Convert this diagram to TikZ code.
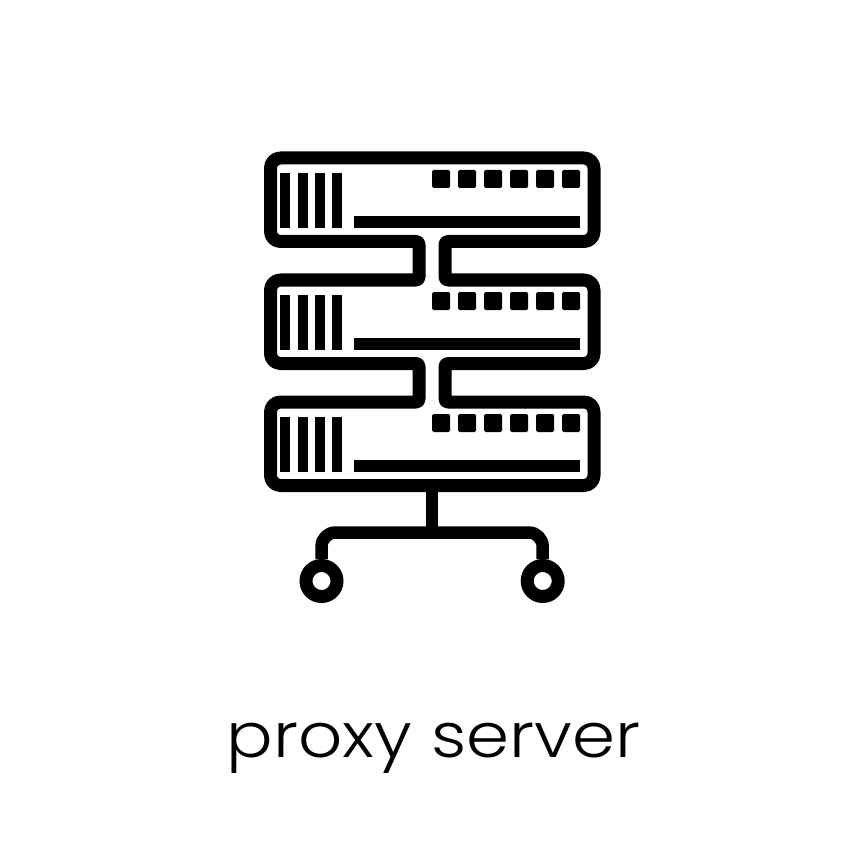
\documentclass[tikz,border=0pt]{standalone}
\usepackage{fontspec}
\newfontfamily\lab[FakeStretch=1.114]{Poppins Light}
\tikzset{
  line/.style={draw=black,line width=13pt,line join=round},
  solidbar/.style={fill=black,draw=none},
  sq/.style={fill=black,draw=none,rounded corners=1.5pt},
  wheel/.style={draw=black,fill=white,line width=13pt,circle,minimum size=31pt,inner sep=0pt}
}
\begin{document}
\begin{tikzpicture}[x=1pt,y=-1pt]
\useasboundingbox[fill=white] (0,0) rectangle (864,866);
% cabinet outline
\draw[line] (400,158)
  [rounded corners=10pt] -- (594,158) -- (594,241.5)
  [rounded corners=3pt] -- (445,241.5) -- (445,280)
  [rounded corners=10pt] -- (594,280) -- (594,363.5)
  [rounded corners=3pt] -- (445,363.5) -- (445,402)
  [rounded corners=10pt] -- (594,402) -- (594,485.5) -- (270.5,485.5) -- (270.5,402)
  [rounded corners=3pt] -- (419,402) -- (419,363.5)
  [rounded corners=10pt] -- (270.5,363.5) -- (270.5,280)
  [rounded corners=3pt] -- (419,280) -- (419,241.5)
  [rounded corners=10pt] -- (270.5,241.5) -- (270.5,158) -- (400,158);
% rows
\foreach \d in {0,122,244}{
  \foreach \a/\b in {280/290,298/308,315/325,332/342}
    \fill[solidbar] (\a,173+\d) rectangle (\b,228+\d);
  \fill[solidbar] (354,216+\d) rectangle (580,228+\d);
  \foreach \a in {432,458,484,510,536,562}
    \fill[sq] (\a,170+\d) rectangle (\a+18,188+\d);
}
% stand
\draw[line,line width=12.5pt] (432,485) -- (432,532.5);
\node[wheel] (wl) at (321.5,581) {};
\node[wheel] (wr) at (542.7,581) {};
\draw[line,line width=12.5pt,rounded corners=14pt] (wl.north) -- (wl.north |- 0,532.5) -- (wr.north |- 0,532.5) -- (wr.north);
\node[anchor=base,inner sep=0pt,font=\lab\fontsize{62}{62}\selectfont] (t) at (433.5,757) {proxy server};
\end{tikzpicture}
\end{document}
